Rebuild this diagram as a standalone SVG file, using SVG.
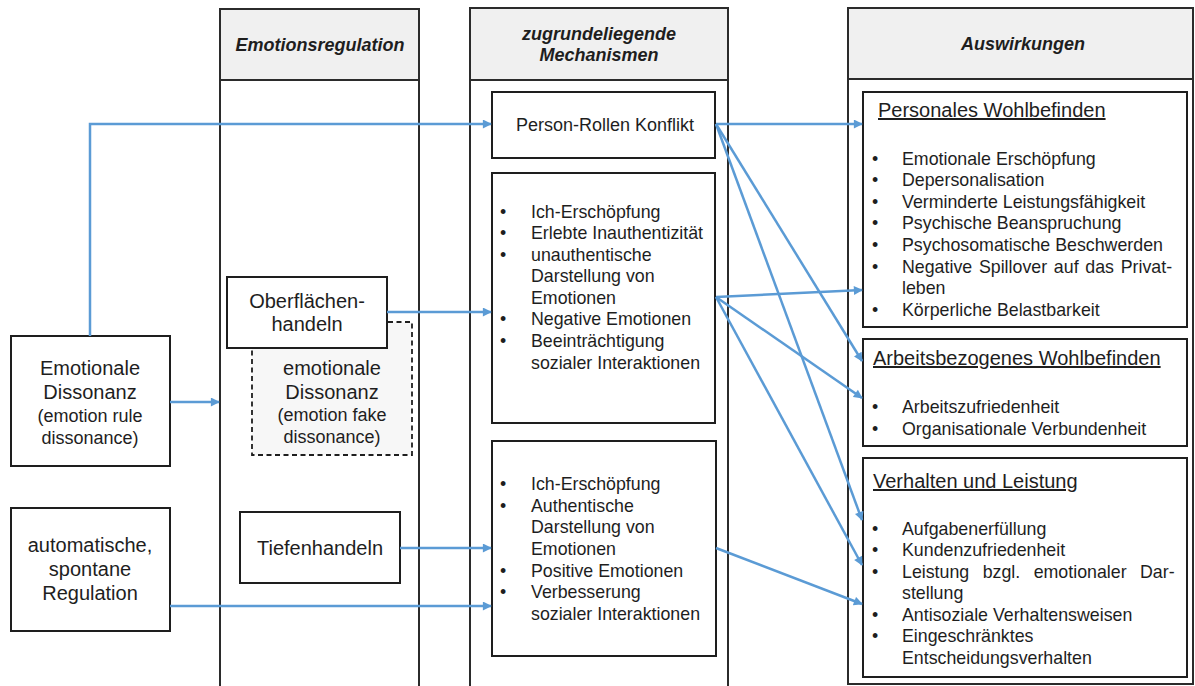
<svg xmlns="http://www.w3.org/2000/svg" width="1195" height="686" viewBox="0 0 1195 686">
  <style>
    .col { fill: #ffffff; stroke: #2b2b2b; stroke-width: 2; }
    .hdr { fill: #f0f0f0; stroke: #2b2b2b; stroke-width: 2; }
    .box { fill: #ffffff; stroke: #1e1e1e; stroke-width: 2; }
    .dash { fill: #f7f7f7; stroke: #1e1e1e; stroke-width: 1.8; stroke-dasharray: 5 3.5; }
    text { font-family: "Liberation Sans", Arial, sans-serif; fill: #1e1e1e; }
    .h { font-weight: bold; font-style: italic; font-size: 18px; text-anchor: middle; }
    .big { font-size: 20px; text-anchor: middle; }
    .mid { font-size: 18px; text-anchor: middle; }
    .it { font-size: 17.8px; }
    .ttl { font-size: 20px; text-decoration: underline; }
    .conn { stroke: #5b9bd5; stroke-width: 2.5; fill: none; marker-end: url(#ah); }
  </style>
  <defs>
    <marker id="ah" viewBox="0 0 10 10" refX="9" refY="5" markerWidth="10" markerHeight="9" markerUnits="userSpaceOnUse" orient="auto">
      <path d="M0,0 L10,5 L0,10 z" fill="#5b9bd5"/>
    </marker>
  </defs>

  <rect width="1195" height="686" fill="#ffffff"/>

  <!-- column: Emotionsregulation -->
  <g id="col-regulation">
    <rect class="col" x="220" y="9" width="199" height="690"/>
    <rect class="hdr" x="220" y="9" width="199" height="71"/>
    <text class="h" x="320" y="51">Emotionsregulation</text>
  </g>

  <!-- column: zugrundeliegende Mechanismen -->
  <g id="col-mechanisms">
    <rect class="col" x="470" y="8" width="258" height="690"/>
    <rect class="hdr" x="470" y="8" width="258" height="72"/>
    <text class="h" x="599" y="40">zugrundeliegende</text>
    <text class="h" x="599" y="61">Mechanismen</text>
  </g>

  <!-- column: Auswirkungen -->
  <g id="col-effects">
    <rect class="col" x="848" y="8" width="345" height="676"/>
    <rect class="hdr" x="848" y="8" width="345" height="71"/>
    <text class="h" x="1023" y="50">Auswirkungen</text>
  </g>

  <!-- antecedents -->
  <g id="node-dissonance">
    <rect class="box" x="11" y="336" width="159" height="130"/>
    <text class="big" x="90" y="375">Emotionale</text>
    <text class="big" x="90" y="399">Dissonanz</text>
    <text class="mid" x="90" y="422">(emotion rule</text>
    <text class="mid" x="90" y="444">dissonance)</text>
  </g>

  <g id="node-automatic">
    <rect class="box" x="11" y="508" width="159" height="123"/>
    <text class="big" x="90" y="552">automatische,</text>
    <text class="big" x="90" y="576">spontane</text>
    <text class="big" x="90" y="600">Regulation</text>
  </g>

  <!-- regulation strategies -->
  <g id="node-fake-dissonance">
    <rect class="dash" x="252" y="322" width="160" height="133"/>
    <text class="big" x="332" y="375">emotionale</text>
    <text class="big" x="332" y="399">Dissonanz</text>
    <text class="mid" x="332" y="421">(emotion fake</text>
    <text class="mid" x="332" y="443">dissonance)</text>
  </g>

  <g id="node-surface">
    <rect class="box" x="227" y="277" width="160" height="71"/>
    <text class="big" x="307" y="308">Oberflächen-</text>
    <text class="big" x="307" y="331">handeln</text>
  </g>

  <g id="node-deep">
    <rect class="box" x="240" y="512" width="160" height="71"/>
    <text class="big" x="320" y="555">Tiefenhandeln</text>
  </g>

  <!-- mechanisms -->
  <g id="node-role-conflict">
    <rect class="box" x="492" y="92" width="223" height="66"/>
    <text class="mid" x="605" y="131">Person-Rollen Konflikt</text>
  </g>

  <g id="node-surface-mech">
    <rect class="box" x="492" y="173" width="223" height="250"/>
    <g class="it">
      <text x="500" y="218">•</text><text x="531" y="218">Ich-Erschöpfung</text>
      <text x="500" y="239">•</text><text x="531" y="239">Erlebte Inauthentizität</text>
      <text x="500" y="261">•</text><text x="531" y="261">unauthentische</text>
      <text x="531" y="282">Darstellung von</text>
      <text x="531" y="304">Emotionen</text>
      <text x="500" y="325">•</text><text x="531" y="325">Negative Emotionen</text>
      <text x="500" y="347">•</text><text x="531" y="347">Beeinträchtigung</text>
      <text x="531" y="369">sozialer Interaktionen</text>
    </g>
  </g>

  <g id="node-deep-mech">
    <rect class="box" x="492" y="441" width="224" height="215"/>
    <g class="it">
      <text x="500" y="490">•</text><text x="531" y="490">Ich-Erschöpfung</text>
      <text x="500" y="512">•</text><text x="531" y="512">Authentische</text>
      <text x="531" y="533">Darstellung von</text>
      <text x="531" y="555">Emotionen</text>
      <text x="500" y="577">•</text><text x="531" y="577">Positive Emotionen</text>
      <text x="500" y="598">•</text><text x="531" y="598">Verbesserung</text>
      <text x="531" y="620">sozialer Interaktionen</text>
    </g>
  </g>

  <!-- outcomes -->
  <g id="node-personal-wellbeing">
    <rect class="box" x="863" y="92" width="324" height="235"/>
    <text class="ttl" x="878" y="117">Personales Wohlbefinden</text>
    <g class="it">
      <text x="872" y="165">•</text><text x="902" y="165">Emotionale Erschöpfung</text>
      <text x="872" y="186">•</text><text x="902" y="186">Depersonalisation</text>
      <text x="872" y="208">•</text><text x="902" y="208">Verminderte Leistungsfähigkeit</text>
      <text x="872" y="229">•</text><text x="902" y="229">Psychische Beanspruchung</text>
      <text x="872" y="251">•</text><text x="902" y="251">Psychosomatische Beschwerden</text>
      <text x="872" y="273">•</text><text x="902" y="273" word-spacing="1.8">Negative Spillover auf das Privat-</text>
      <text x="902" y="294">leben</text>
      <text x="872" y="316">•</text><text x="902" y="316">Körperliche Belastbarkeit</text>
    </g>
  </g>

  <g id="node-work-wellbeing">
    <rect class="box" x="863" y="339" width="324" height="107"/>
    <text class="ttl" x="873" y="365">Arbeitsbezogenes Wohlbefinden</text>
    <g class="it">
      <text x="872" y="413">•</text><text x="902" y="413">Arbeitszufriedenheit</text>
      <text x="872" y="435">•</text><text x="902" y="435">Organisationale Verbundenheit</text>
    </g>
  </g>

  <g id="node-behaviour">
    <rect class="box" x="863" y="458" width="324" height="219"/>
    <text class="ttl" x="873" y="488">Verhalten und Leistung</text>
    <g class="it">
      <text x="872" y="535">•</text><text x="902" y="535">Aufgabenerfüllung</text>
      <text x="872" y="556">•</text><text x="902" y="556">Kundenzufriedenheit</text>
      <text x="872" y="578">•</text><text x="902" y="578" word-spacing="8.5">Leistung bzgl. emotionaler Dar-</text>
      <text x="902" y="599">stellung</text>
      <text x="872" y="621">•</text><text x="902" y="621">Antisoziale Verhaltensweisen</text>
      <text x="872" y="642">•</text><text x="902" y="642">Eingeschränktes</text>
      <text x="902" y="664">Entscheidungsverhalten</text>
    </g>
  </g>

  <!-- connectors -->
  <g id="connectors">
    <path class="conn" d="M90,336 V124 H491"/>
    <path class="conn" d="M170,402 H219"/>
    <path class="conn" d="M387,312 H491"/>
    <path class="conn" d="M400,548 H491"/>
    <path class="conn" d="M170,606 H491"/>
    <path class="conn" d="M716,124 H862"/>
    <path class="conn" d="M716,124 L862,361"/>
    <path class="conn" d="M716,124 L862,520"/>
    <path class="conn" d="M716,297 L862,290"/>
    <path class="conn" d="M716,297 L862,398"/>
    <path class="conn" d="M716,297 L862,565"/>
    <path class="conn" d="M716,548 L862,604"/>
  </g>
</svg>
